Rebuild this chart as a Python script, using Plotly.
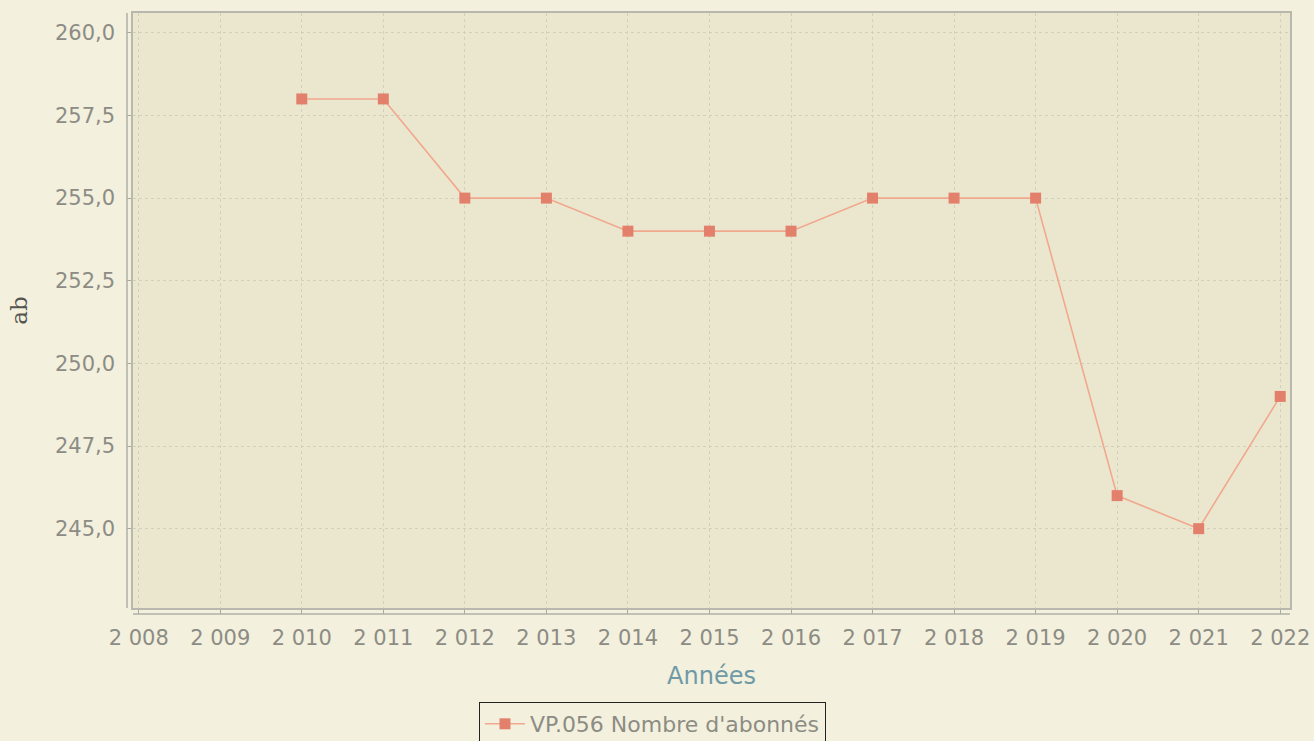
import plotly.graph_objects as go

years = [2010, 2011, 2012, 2013, 2014, 2015, 2016, 2017, 2018, 2019, 2020, 2021, 2022]
abonnes = [258, 258, 255, 255, 254, 254, 254, 255, 255, 255, 246, 245, 249]
series_name = "VP.056 Nombre d'abonnés"
x_title = "Années"
y_title = "ab"

W, H = 1314, 741
L, R, T, B = 133, 24, 13, 133
pw, ph = W - L - R, H - T - B

fig = go.Figure()
fig.add_trace(go.Scatter(
    x=years, y=abonnes, mode="lines+markers", name=series_name,
    line=dict(color="#f0a88e", width=1.6),
    marker=dict(symbol="square", size=11, color="#e3806c"),
))

axis_font = dict(family="DejaVu Sans", size=21, color="#8c8c84")
fig.update_layout(
    width=W, height=H,
    margin=dict(l=L, r=R, t=T, b=B, autoexpand=False),
    paper_bgcolor="#f3f0de",
    plot_bgcolor="#ebe7cf",
    separators=", ",
    showlegend=True,
    legend=dict(
        orientation="h", x=0.449, y=-0.158, xanchor="center", yanchor="top",
        bordercolor="#222222", borderwidth=1, bgcolor="#f3f0de", itemwidth=40,
        font=dict(family="DejaVu Sans", size=22, color="#8c8c84"),
    ),
    xaxis=dict(
        range=[2007.93, 2022.12], tickmode="array", tickvals=list(range(2008, 2023)),
        tickformat=",d", tickfont=axis_font, ticklabelstandoff=6,
        showgrid=True, gridcolor="#d2d0bd", griddash="dot", gridwidth=1,
        showline=True, mirror=True, linecolor="#b8b8ae", linewidth=1.5,
        ticks="outside", ticklen=4, tickcolor="#a8a8a0",
        zeroline=False, automargin=False,
        title=dict(text=x_title, font=dict(family="DejaVu Sans", size=24, color="#6f9aa6"), standoff=18),
    ),
    yaxis=dict(
        range=[242.6, 260.6], tickmode="array", tickvals=[245, 247.5, 250, 252.5, 255, 257.5, 260],
        tickformat=",.1f", tickfont=axis_font, ticklabelstandoff=8,
        showgrid=True, gridcolor="#d2d0bd", griddash="dot", gridwidth=1,
        showline=True, mirror=True, linecolor="#b8b8ae", linewidth=1.5,
        ticks="outside", ticklen=4, tickcolor="#a8a8a0",
        zeroline=False, automargin=False,
        title=dict(text=y_title, font=dict(family="DejaVu Serif", size=23, color="#555550"), standoff=21),
    ),
)

# offset axis lines (JFreeChart style)
fig.add_shape(type="line", xref="paper", yref="paper",
              x0=-6 / pw, x1=-6 / pw, y0=0, y1=1,
              line=dict(color="#b0b0a6", width=1.5))
fig.add_shape(type="line", xref="paper", yref="paper",
              x0=0, x1=1, y0=-6 / ph, y1=-6 / ph,
              line=dict(color="#b0b0a6", width=1.5))

fig.write_html("out.html", config={"displayModeBar": False},
               post_script="document.body.style.margin='0';")
